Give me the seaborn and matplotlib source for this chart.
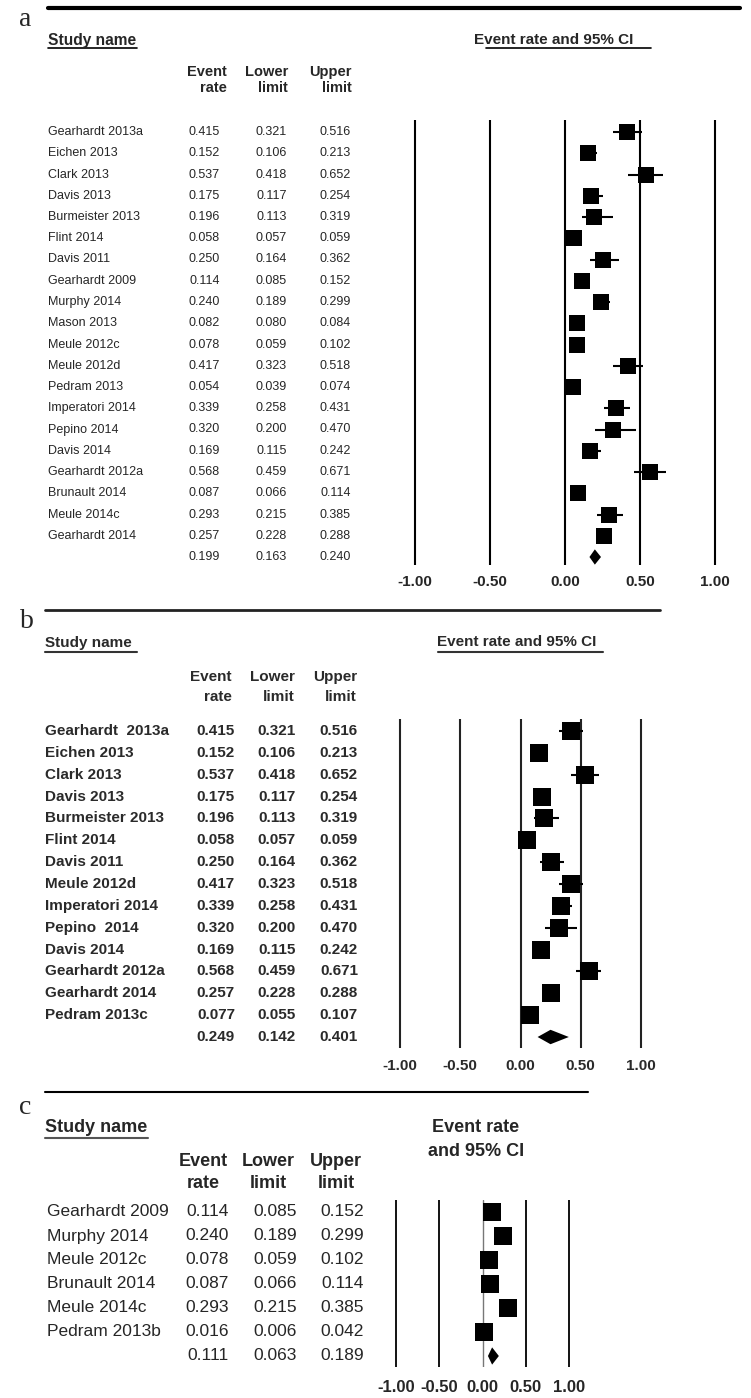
import matplotlib
matplotlib.use("Agg")
import matplotlib.pyplot as plt
import matplotlib.transforms as mtransforms
from matplotlib.lines import Line2D
import seaborn as sns

# === Dati: pannello a ===
names_a = ["Gearhardt 2013a", "Eichen 2013", "Clark 2013", "Davis 2013", "Burmeister 2013",
           "Flint 2014", "Davis 2011", "Gearhardt 2009", "Murphy 2014", "Mason 2013",
           "Meule 2012c", "Meule 2012d", "Pedram 2013", "Imperatori 2014", "Pepino 2014",
           "Davis 2014", "Gearhardt 2012a", "Brunault 2014", "Meule 2014c", "Gearhardt 2014"]
rate_a = [0.415, 0.152, 0.537, 0.175, 0.196, 0.058, 0.250, 0.114, 0.240, 0.082,
          0.078, 0.417, 0.054, 0.339, 0.320, 0.169, 0.568, 0.087, 0.293, 0.257]
lower_a = [0.321, 0.106, 0.418, 0.117, 0.113, 0.057, 0.164, 0.085, 0.189, 0.080,
           0.059, 0.323, 0.039, 0.258, 0.200, 0.115, 0.459, 0.066, 0.215, 0.228]
upper_a = [0.516, 0.213, 0.652, 0.254, 0.319, 0.059, 0.362, 0.152, 0.299, 0.084,
           0.102, 0.518, 0.074, 0.431, 0.470, 0.242, 0.671, 0.114, 0.385, 0.288]
summary_a = [0.199, 0.163, 0.240]

# === Dati: pannello b ===
names_b = ["Gearhardt  2013a", "Eichen 2013", "Clark 2013", "Davis 2013", "Burmeister 2013",
           "Flint 2014", "Davis 2011", "Meule 2012d", "Imperatori 2014", "Pepino  2014",
           "Davis 2014", "Gearhardt 2012a", "Gearhardt 2014", "Pedram 2013c"]
rate_b = [0.415, 0.152, 0.537, 0.175, 0.196, 0.058, 0.250, 0.417, 0.339, 0.320,
          0.169, 0.568, 0.257, 0.077]
lower_b = [0.321, 0.106, 0.418, 0.117, 0.113, 0.057, 0.164, 0.323, 0.258, 0.200,
           0.115, 0.459, 0.228, 0.055]
upper_b = [0.516, 0.213, 0.652, 0.254, 0.319, 0.059, 0.362, 0.518, 0.431, 0.470,
           0.242, 0.671, 0.288, 0.107]
summary_b = [0.249, 0.142, 0.401]

# === Dati: pannello c ===
names_c = ["Gearhardt 2009", "Murphy 2014", "Meule 2012c", "Brunault 2014", "Meule 2014c",
           "Pedram 2013b"]
rate_c = [0.114, 0.240, 0.078, 0.087, 0.293, 0.016]
lower_c = [0.085, 0.189, 0.059, 0.066, 0.215, 0.006]
upper_c = [0.152, 0.299, 0.102, 0.114, 0.385, 0.042]
summary_c = [0.111, 0.063, 0.189]

ticks = [-1.0, -0.5, 0.0, 0.5, 1.0]
tick_labels = ["-1.00", "-0.50", "0.00", "0.50", "1.00"]

# === Stile ===
sns.set_style("white")
SANS = "Liberation Sans"
SERIF = "Liberation Serif"
plt.rcParams["font.family"] = [SANS, "DejaVu Sans"]

W, H = 751, 1398
fig = plt.figure(figsize=(W / 100, H / 100), dpi=100)


def fx(x):
    return x / W


def fy(y):
    return 1 - y / H


def hline(x0, x1, y, lw, color="black"):
    fig.add_artist(Line2D([fx(x0), fx(x1)], [fy(y), fy(y)], transform=fig.transFigure,
                          color=color, lw=lw))


def forest_axes(p0, p1, top, bottom, first, last, n, pad=0.08):
    unit = (p1 - p0) / 2
    left = p0 - pad * unit
    width = (p1 - p0) + 2 * pad * unit
    ax = fig.add_axes([fx(left), fy(bottom), width / W, (bottom - top) / H])
    ax.set_xlim(-1 - pad, 1 + pad)
    ppr = (last - first) / (n - 1)
    ax.set_ylim((n - 1) + (bottom - last) / ppr, -(first - top) / ppr)
    ax.patch.set_alpha(0)
    sns.despine(ax=ax, left=True, bottom=True)
    ax.set_yticks([])
    return ax


def draw_panel(ax, rate, lower, upper, summary, sq, dh, line_color, lw, tick_kw, tick_pad,
               zero_color=None, zero_lw=None):
    n = len(rate)
    rows = list(range(n))
    for t in ticks:
        if t == 0 and zero_color is not None:
            ax.axvline(t, color=zero_color, lw=zero_lw, zorder=1)
        else:
            ax.axvline(t, color=line_color, lw=lw, zorder=1)
    ax.hlines(rows, lower, upper, color="black", lw=lw, zorder=2)
    sns.scatterplot(x=rate, y=rows, marker="s", s=sq, color="black", linewidth=0,
                    ax=ax, legend=False, zorder=3)
    est, lo, hi = summary
    ax.fill([lo, est, hi, est], [n, n - dh, n, n + dh], color="black", lw=0, zorder=3)
    ax.set_xticks(ticks)
    ax.set_xticklabels(tick_labels, **tick_kw)
    ax.tick_params(axis="x", length=0, pad=tick_pad)
    ax.set_xlabel("")
    ax.set_ylabel("")


def table(ax, names, rate, lower, upper, summary, name_x, cols_x, kw, ha="right"):
    tr = mtransforms.blended_transform_factory(fig.transFigure, ax.transData)
    n = len(names)
    for i in range(n):
        ax.text(fx(name_x), i, names[i], transform=tr, ha="left", va="center", **kw)
        for cx, vals in zip(cols_x, [rate, lower, upper]):
            ax.text(fx(cx), i, f"{vals[i]:.3f}", transform=tr, ha=ha, va="center", **kw)
    for cx, v in zip(cols_x, summary):
        ax.text(fx(cx), n, f"{v:.3f}", transform=tr, ha=ha, va="center", **kw)


def headers(xs, y1, y2, kw, ha="right"):
    for x, (a, b) in zip(xs, [("Event", "rate"), ("Lower", "limit"), ("Upper", "limit")]):
        fig.text(fx(x), fy(y1), a, ha=ha, va="center", **kw)
        fig.text(fx(x), fy(y2), b, ha=ha, va="center", **kw)


# === Pannello a ===
hline(48, 740, 7.5, 3)
fig.text(fx(25), fy(19), "a", family=SERIF, fontsize=20, ha="center", va="center")
ka_head = dict(family=SANS, fontsize=10.5, fontweight="bold")
ka_row = dict(family=SANS, fontsize=9)
fig.text(fx(48), fy(40), "Study name", ha="left", va="center",
         **dict(ka_head, fontsize=11.2))
hline(48, 137, 48, 1.2)
fig.text(fx(474), fy(40), "Event rate and 95% CI", ha="left", va="center",
         **dict(ka_head, fontsize=11))
hline(486, 651, 48, 1.2)
headers([227, 288, 352], 72, 88, ka_head)

ax_a = forest_axes(415, 715, 120, 565, 132, 557, 21)
draw_panel(ax_a, rate_a, lower_a, upper_a, summary_a, sq=117, dh=0.36, line_color="black",
           lw=1.5, tick_kw=dict(family=SANS, fontsize=11, fontweight="bold"), tick_pad=7)
table(ax_a, names_a, rate_a, lower_a, upper_a, summary_a, 48, [220, 287, 351], ka_row)

# === Pannello b ===
hline(45, 660, 610, 2, "#222222")
fig.text(fx(27), fy(622), "b", family=SERIF, fontsize=20, ha="center", va="center")
kb = dict(family=SANS, fontsize=11, fontweight="bold", color="#2a2a2a")
fig.text(fx(45), fy(643), "Study name", ha="left", va="center", **kb)
hline(45, 137, 652, 1.5, "#333333")
fig.text(fx(437), fy(642), "Event rate and 95% CI", ha="left", va="center", **kb)
hline(438, 603, 652, 1.5, "#333333")
headers([232, 295, 357], 677, 697, kb)

ax_b = forest_axes(400, 641, 719, 1048, 731, 1037, 15)
draw_panel(ax_b, rate_b, lower_b, upper_b, summary_b, sq=159, dh=0.33, line_color="#222222",
           lw=1.5, tick_kw=dict(family=SANS, fontsize=11, fontweight="bold", color="#2a2a2a"),
           tick_pad=8)
table(ax_b, names_b, rate_b, lower_b, upper_b, summary_b, 45, [235, 296, 358], kb)

# === Pannello c ===
hline(45, 588, 1092, 1.5)
fig.text(fx(25), fy(1107), "c", family=SERIF, fontsize=20, ha="center", va="center")
kc_head = dict(family=SANS, fontsize=13, fontweight="bold")
kc_row = dict(family=SANS, fontsize=12.5)
fig.text(fx(45), fy(1128), "Study name", ha="left", va="center", **kc_head)
hline(45, 148, 1138, 1.5, "#555555")
fig.text(fx(476), fy(1128), "Event rate", ha="center", va="center", **kc_head)
fig.text(fx(476), fy(1152), "and 95% CI", ha="center", va="center", **kc_head)
headers([203, 268, 336], 1162, 1183, kc_head, ha="center")

ax_c = forest_axes(396, 569, 1200, 1367, 1212, 1356, 7)
draw_panel(ax_c, rate_c, lower_c, upper_c, summary_c, sq=169, dh=0.36, line_color="black",
           lw=1.3, tick_kw=dict(family=SANS, fontsize=12, fontweight="bold"), tick_pad=9,
           zero_color="#777777", zero_lw=1.0)
table(ax_c, names_c, rate_c, lower_c, upper_c, summary_c, 47, [229, 297, 364], kc_row)

plt.savefig("out.png", dpi=100)
plt.close()
